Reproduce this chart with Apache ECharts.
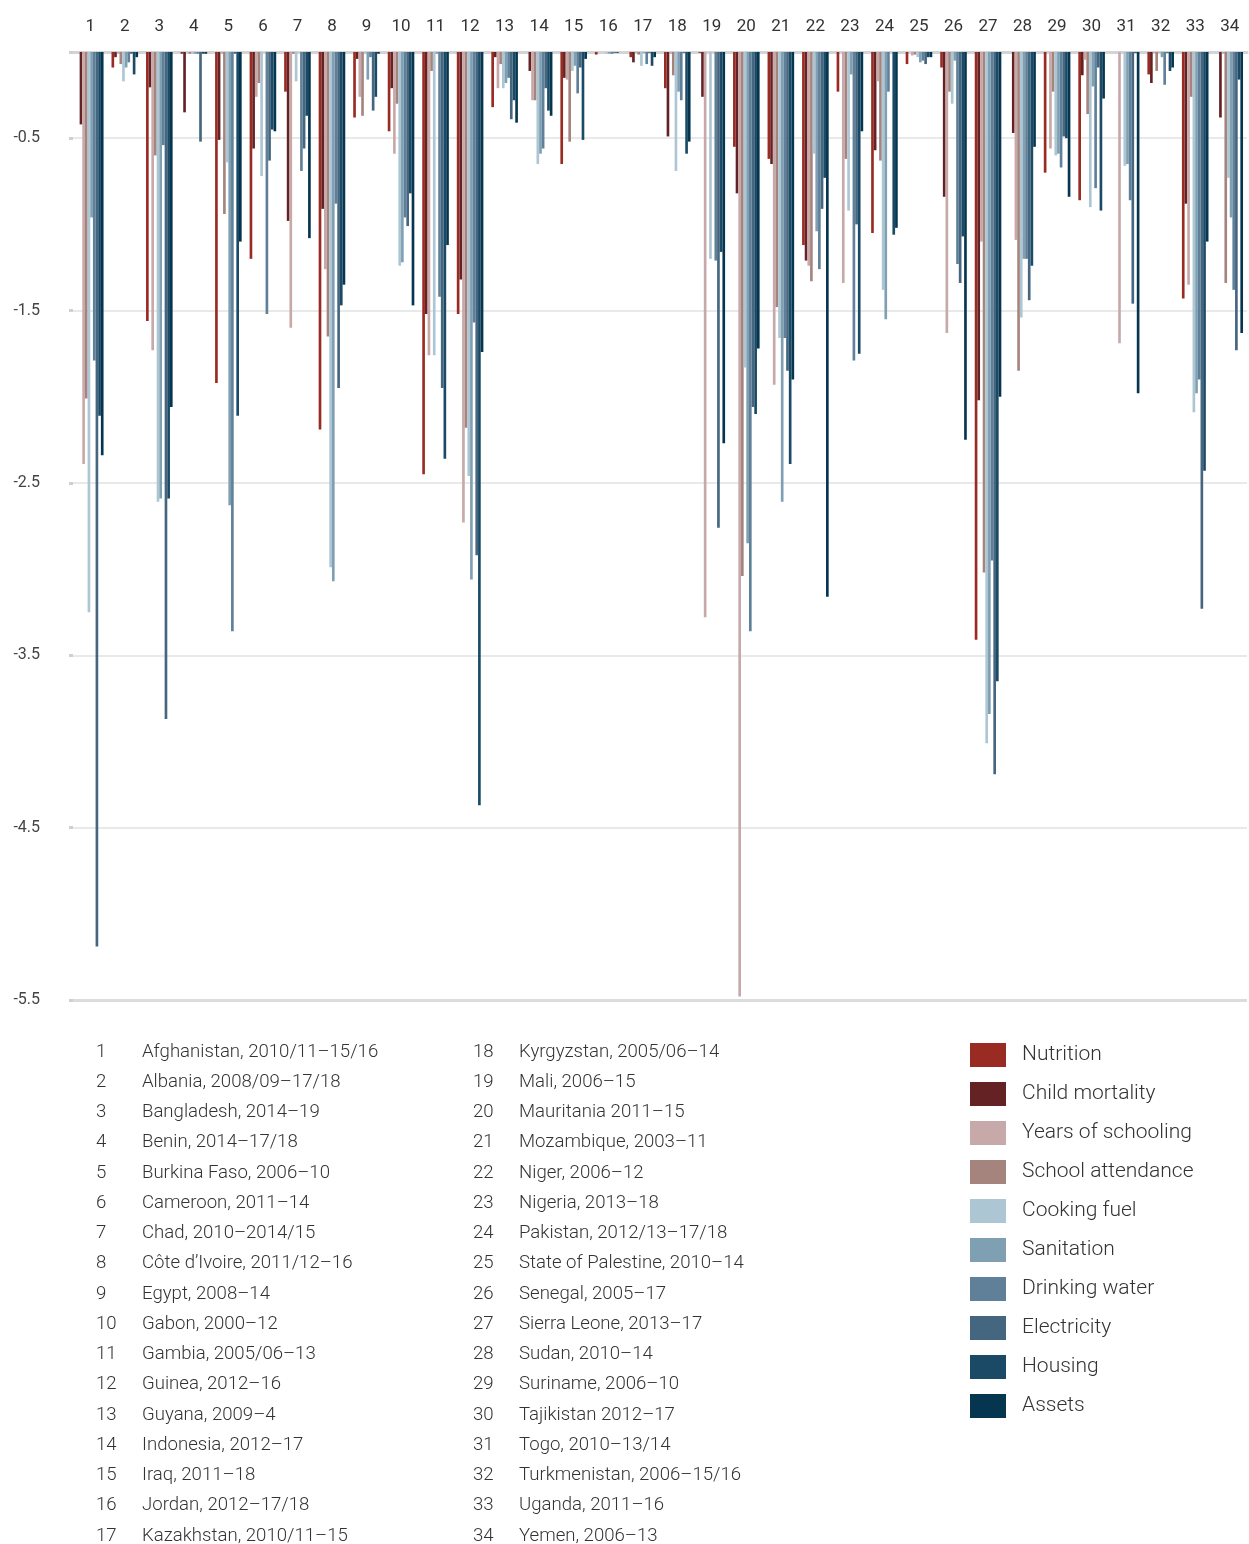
<!DOCTYPE html>
<html>
<head>
<meta charset="utf-8">
<script src="https://cdn.jsdelivr.net/npm/echarts@6/dist/echarts.min.js"></script>
<style>
html,body{margin:0;padding:0;background:#fff;}
#chart{width:1249px;height:1544px;}
</style>
</head>
<body>
<div id="chart"></div>
<script>
// ---------- DATA ----------
var categories = ['1','2','3','4','5','6','7','8','9','10','11','12','13','14','15','16','17','18','19','20','21','22','23','24','25','26','27','28','29','30','31','32','33','34'];

var countries = [
  'Afghanistan, 2010/11\u201315/16','Albania, 2008/09\u201317/18','Bangladesh, 2014\u201319','Benin, 2014\u201317/18',
  'Burkina Faso, 2006\u201310','Cameroon, 2011\u201314','Chad, 2010\u20132014/15','C\u00f4te d\u2019Ivoire, 2011/12\u201316',
  'Egypt, 2008\u201314','Gabon, 2000\u201312','Gambia, 2005/06\u201313','Guinea, 2012\u201316','Guyana, 2009\u20134',
  'Indonesia, 2012\u201317','Iraq, 2011\u201318','Jordan, 2012\u201317/18','Kazakhstan, 2010/11\u201315',
  'Kyrgyzstan, 2005/06\u201314','Mali, 2006\u201315','Mauritania 2011\u201315','Mozambique, 2003\u201311','Niger, 2006\u201312',
  'Nigeria, 2013\u201318','Pakistan, 2012/13\u201317/18','State of Palestine, 2010\u201314','Senegal, 2005\u201317',
  'Sierra Leone, 2013\u201317','Sudan, 2010\u201314','Suriname, 2006\u201310','Tajikistan 2012\u201317','Togo, 2010\u201313/14',
  'Turkmenistan, 2006\u201315/16','Uganda, 2011\u201316','Yemen, 2006\u201313'
];

var seriesNames = ['Nutrition','Child mortality','Years of schooling','School attendance','Cooking fuel','Sanitation','Drinking water','Electricity','Housing','Assets'];

var yTicks = [-5.5,-4.5,-3.5,-2.5,-1.5,-0.5];

var nutrition      = [0,-0.09,-1.56,-0.01,-1.92,-1.20,-0.23,-2.19,-0.38,-0.46,-2.45,-1.52,-0.32,0,-0.65,-0.015,-0.03,-0.21,-0.005,-0.55,-0.62,-1.12,-0.23,-1.05,-0.07,-0.09,-3.41,0,-0.70,-0.86,0,-0.13,-1.43,0];
var childMortality = [-0.42,-0.03,-0.205,-0.35,-0.51,-0.56,-0.98,-0.91,-0.04,-0.21,-1.52,-1.32,-0.03,-0.11,-0.15,0,-0.06,-0.49,-0.26,-0.82,-0.65,-1.21,0,-0.57,0,-0.84,-2.02,-0.47,0,-0.135,0,-0.18,-0.88,-0.38];
var yearsSchooling = [-2.39,-0.01,-1.73,0,-0.01,-0.26,-1.60,-1.26,-0.26,-0.59,-1.76,-2.73,-0.21,-0.28,-0.16,0,-0.005,-0.01,-3.28,-5.48,-1.93,-1.24,-1.34,-0.17,-0.02,-1.63,-1.10,-1.09,-0.56,-0.045,-1.69,-0.005,-1.35,-0.01];
var schoolAttend   = [-2.01,-0.07,-0.60,-0.01,-0.94,-0.18,-0.01,-1.65,-0.37,-0.30,-0.11,-2.18,-0.07,-0.28,-0.52,0,-0.015,-0.135,0,-3.04,-1.48,-1.33,-0.62,-0.63,-0.015,-0.23,-3.02,-1.85,-0.23,-0.36,0,-0.11,-0.26,-1.34];
var cookingFuel    = [-3.25,-0.17,-2.61,-0.01,-0.64,-0.72,-0.17,-2.99,-0.01,-1.24,-1.76,-2.46,-0.21,-0.65,-0.11,-0.01,-0.08,-0.69,-1.20,-1.83,-1.66,-0.59,-0.92,-1.38,-0.03,-0.30,-4.01,-1.54,-0.60,-0.90,-0.66,-0.005,-2.09,-0.73];
var sanitation     = [-0.96,-0.09,-2.59,-0.01,-2.63,0,0,-3.07,-0.16,-1.22,-0.01,-3.06,-0.18,-0.59,-0.08,-0.01,-0.005,-0.23,0,-2.85,-2.61,-1.04,-0.13,-1.55,-0.06,-0.05,-3.84,-1.20,-0.59,-0.20,-0.65,-0.03,-1.98,-0.96];
var drinkingWater  = [-1.79,-0.06,-0.54,-0.01,-3.36,-1.52,-0.69,-0.88,-0.03,-0.96,-1.42,-1.57,-0.15,-0.56,-0.24,-0.01,-0.07,-0.28,-1.21,-3.36,-1.66,-1.26,-1.79,-0.23,-0.05,-1.23,-2.95,-1.20,-0.67,-0.79,-0.86,-0.19,-1.90,-1.38];
var electricity    = [-5.19,-0.01,-3.87,-0.52,-0.01,-0.63,-0.56,-1.95,-0.34,-1.01,-1.95,-2.92,-0.39,-0.21,-0.09,-0.005,-0.005,-0.005,-2.76,-2.06,-1.85,-0.91,-1.00,0,-0.07,-1.34,-4.19,-1.44,-0.49,-0.09,-1.46,-0.005,-3.23,-1.73];
var housing        = [-2.11,-0.13,-2.59,-0.01,-2.11,-0.45,-0.37,-1.47,-0.26,-0.82,-2.36,-4.37,-0.28,-0.34,-0.51,-0.005,-0.08,-0.59,-1.16,-2.10,-2.39,-0.73,-1.75,-1.06,-0.03,-1.07,-3.65,-1.24,-0.50,-0.92,-0.005,-0.11,-2.43,-0.16];
var assets         = [-2.34,-0.03,-2.06,-0.01,-1.10,-0.46,-1.08,-1.35,-0.01,-1.47,-1.12,-1.74,-0.41,-0.37,-0.04,0,-0.03,-0.52,-2.27,-1.72,-1.90,-3.16,-0.46,-1.02,-0.03,-2.25,-2.00,-0.55,-0.84,-0.27,-1.98,-0.09,-1.10,-1.63];

var seriesData = [nutrition,childMortality,yearsSchooling,schoolAttend,cookingFuel,sanitation,drinkingWater,electricity,housing,assets];
var colors = ['#992b22','#642224','#c8a9a9','#a6847e','#adc6d4','#7f9fb3','#5f8098','#44667f','#1b4a66','#05354f'];

// ---------- CHART ----------
var chart = echarts.init(document.getElementById('chart'), null, {renderer:'canvas'});
var FONT = 'Roboto, "Noto Sans", sans-serif';

var series = seriesNames.map(function(name, i){
  var s = {
    name: name,
    type: 'bar',
    data: seriesData[i],
    itemStyle: {color: colors[i]},
    barGap: '0%',
    barCategoryGap: '23%',
    emphasis: {disabled: true}
  };
  if (i === 0) {
    s.markLine = {
      silent: true, symbol: 'none', label: {show: false},
      lineStyle: {color: '#dcdcdc', width: 3, type: 'solid'},
      data: [{yAxis: yTicks[0]}]
    };
  }
  return s;
});

// country list as text
var graphics = [];
var rowStart = 1052, rowStep = 30.25;
countries.forEach(function(c, i){
  var col = i < 17 ? 0 : 1;
  var row = i % 17;
  var nx = col === 0 ? 96 : 473;
  var tx = col === 0 ? 142 : 519;
  var y = rowStart + row * rowStep;
  graphics.push({type:'text', x: nx, y: y, style:{text: categories[i], font: '300 18.6px ' + FONT, fill:'#333', textVerticalAlign:'middle', verticalAlign:'middle'}});
  graphics.push({type:'text', x: tx, y: y, style:{text: c, font: '300 18.6px ' + FONT, fill:'#333', textVerticalAlign:'middle', verticalAlign:'middle'}});
});

chart.setOption({
  animation: false,
  backgroundColor: '#fff',
  textStyle: {fontFamily: FONT},
  grid: {left: 73, right: 2, top: 52, bottom: 544, containLabel: false},
  legend: {
    orient: 'vertical', left: 965, top: 1038,
    itemWidth: 36, itemHeight: 24, itemGap: 15,
    icon: 'rect',
    data: seriesNames,
    selectedMode: false,
    textStyle: {fontSize: 21, color: '#333', fontWeight: 300, padding: [0,0,0,11], fontFamily: FONT}
  },
  xAxis: {
    type: 'category', position: 'top', data: categories,
    axisLine: {show: true, lineStyle: {color: '#d4d4d4', width: 3}},
    axisTick: {show: false},
    axisLabel: {fontSize: 17, color: '#333', margin: 17, fontFamily: FONT, interval: 0}
  },
  yAxis: {
    type: 'value', min: -5.5, max: 0, interval: 1,
    axisLine: {show: false},
    axisTick: {show: true, length: 4, lineStyle: {color: '#d0d0d0', width: 3}},
    splitLine: {show: true, lineStyle: {color: '#e2e2e2', width: 1.5}},
    axisLabel: {
      fontSize: 16, color: '#444', margin: 33, fontFamily: FONT,
      formatter: function(v){ return yTicks.indexOf(v) >= 0 ? v.toFixed(1) : ''; }
    }
  },
  series: series,
  graphic: graphics
});
</script>
</body>
</html>
